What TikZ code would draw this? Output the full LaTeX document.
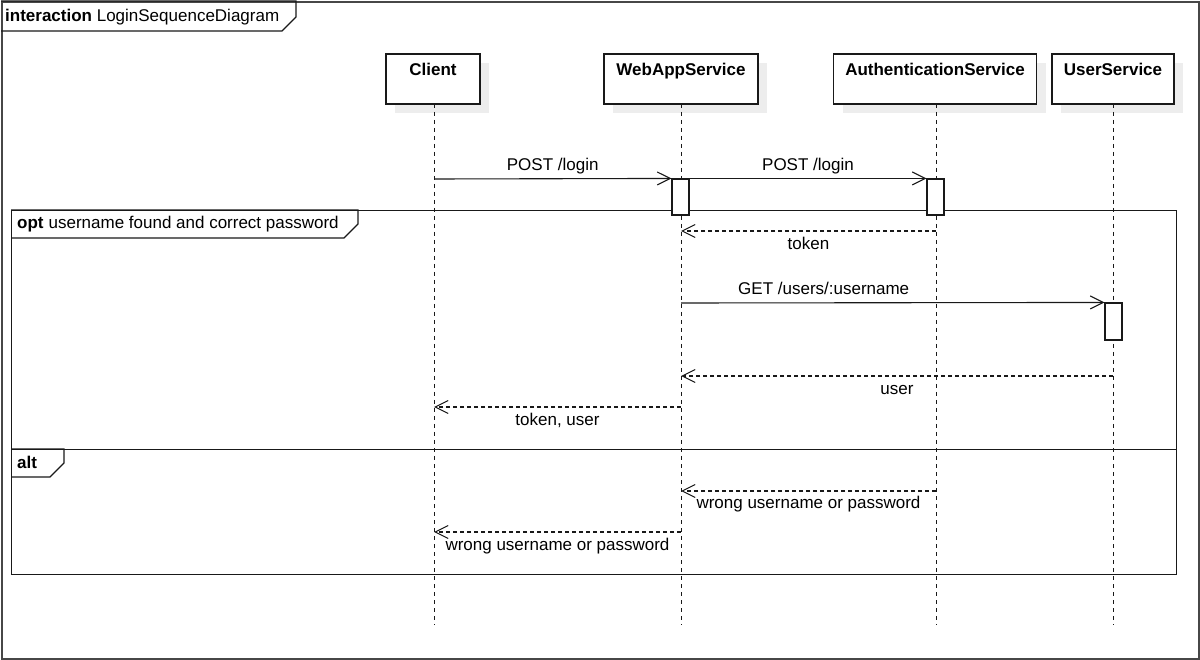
\documentclass[tikz,border=0pt]{standalone}
\usepackage{fontspec}
\setmainfont{Liberation Sans}
\usetikzlibrary{arrows.meta,shadows,calc}
\begin{document}
\begin{tikzpicture}[x=1pt,y=1pt,
  font=\fontsize{17}{20}\selectfont,
  outer/.style={draw=black!72, line width=2pt, inner sep=0pt, minimum width=1197pt, minimum height=657pt, anchor=north west},
  frame/.style={draw=black!90, line width=1.1pt, inner sep=0pt, anchor=north west},
  part/.style={draw=black!90, line width=1.1pt, fill=white, inner sep=0pt, minimum height=50pt,
    drop shadow={shadow xshift=9pt, shadow yshift=-9pt, fill=black!7, opacity=1}},
  ptext/.style={font=\fontsize{17}{20}\selectfont\bfseries, anchor=base, inner sep=0pt},
  ftext/.style={anchor=base west, inner sep=0pt},
  lifeline/.style={draw=black!90, line width=1pt, dash pattern=on 4pt off 4pt},
  act/.style={draw=black!90, fill=white, line width=1.1pt, minimum width=17pt, inner sep=0pt},
  msg/.style={draw=black!90, line width=1.1pt, -{Straight Barb[length=13pt,width=13pt]}},
  ret/.style={msg, dash pattern=on 4pt off 3pt},
  lab/.style={inner sep=2pt, text height=12.5pt, text depth=3.5pt, fill=none},
]
\useasboundingbox (0,0) rectangle (1200,-660);

% outer frame and title
\node[outer] (frm) at (1,-1) {};
\draw[frame] (frm.north west) -- ++(295,0) -- ++(0,-16) -- ++(-14,-14) -- ++(-281,0);
\node[ftext] (title) at ($(frm.north west)+(4,-21)$) {\textbf{interaction} LoginSequenceDiagram};

% participants
\node[part, minimum width=94pt] (client) at (433,-79) {};
\node[part, minimum width=154pt] (web) at (681,-79) {};
\node[part, minimum width=203pt] (auth) at (935,-79) {};
\node[part, minimum width=122pt] (user) at (1113,-79) {};
\node[ptext] (clientt) at (433,-76) {Client};
\node[ptext] (webt) at (681,-76) {WebAppService};
\node[ptext] (autht) at (935,-76) {AuthenticationService};
\node[ptext] (usert) at (1113,-76) {UserService};

% lifelines
\coordinate (clientend) at (434,-625);
\coordinate (webend) at (681,-625);
\coordinate (authend) at (936,-625);
\coordinate (userend) at (1113,-625);
\draw[lifeline] (434,-104) -- (clientend);
\draw[lifeline] (681,-104) -- (webend);
\draw[lifeline] (936,-104) -- (authend);
\draw[lifeline] (1113,-104) -- (userend);

% combined fragments
\node[frame, minimum width=1165pt, minimum height=239pt] (opt) at (11,-210) {};
\node[frame, minimum width=1165pt, minimum height=125pt] (alt) at (11,-449) {};
\draw[frame] (opt.north west) -- ++(347,0) -- ++(0,-14) -- ++(-14,-14) -- ++(-333,0);
\draw[frame] (alt.north west) -- ++(53,0) -- ++(0,-14) -- ++(-14,-14) -- ++(-39,0);
\node[ftext] (optt) at ($(opt.north west)+(6,-19)$) {\textbf{opt}\hspace{5pt}username found and correct password};
\node[ftext] (altt) at ($(alt.north west)+(6,-19)$) {\textbf{alt}};

% activations
\node[act, minimum height=36pt] (wa1) at (680.5,-197) {};
\node[act, minimum height=36pt] (au1) at (935.5,-197) {};
\node[act, minimum height=37pt] (us1) at (1113.5,-321.5) {};

% message anchor points on lifelines
\coordinate (c1) at (434,-179);
\coordinate (a2) at (936,-231);
\coordinate (w2) at (681,-231);
\coordinate (w3) at (681,-303);
\coordinate (u4) at (1113,-376);
\coordinate (w4) at (681,-376);
\coordinate (w5) at (681,-407);
\coordinate (c5) at (434,-407);
\coordinate (a6) at (936,-491);
\coordinate (w6) at (681,-491);
\coordinate (w7) at (681,-532);
\coordinate (c7) at (434,-532);

% messages
\draw[msg] (c1) -- node[lab, midway, above=2pt] (m1) {POST /login} (wa1.north west);
\draw[msg] (wa1.north east) -- node[lab, midway, above=2pt] (m2) {POST /login} (au1.north west);
\draw[ret] (a2) -- node[lab, midway, below=3.5pt] (m3) {token} (w2);
\draw[msg] (w3) -- node[lab, pos=0.337, above=2pt] (m4) {GET /users/:username} (us1.north west);
\draw[ret] (u4) -- node[lab, midway, below=3.5pt] (m5) {user} (w4);
\draw[ret] (w5) -- node[lab, midway, below=3.5pt] (m6) {token, user} (c5);
\draw[ret] (a6) -- node[lab, midway, below=2.5pt] (m7) {wrong username or password} (w6);
\draw[ret] (w7) -- node[lab, midway, below=3.5pt] (m8) {wrong username or password} (c7);
\end{tikzpicture}
\end{document}
